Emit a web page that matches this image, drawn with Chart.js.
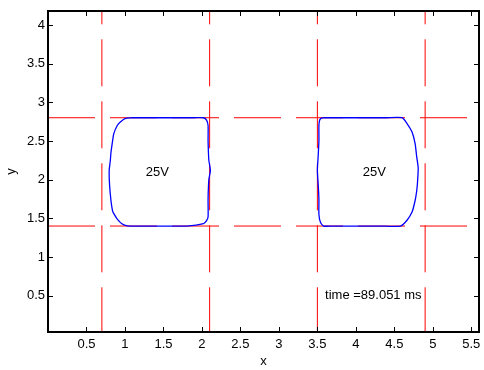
<!DOCTYPE html>
<html>
<head>
<meta charset="utf-8">
<script src="https://cdn.jsdelivr.net/npm/chart.js@4/dist/chart.umd.min.js"></script>
<style>
  body { margin: 0; background: #fff; }
  canvas { display: block; }
</style>
</head>
<body>
<canvas id="myChart" width="484" height="370"></canvas>
<script>
// axis limits and ticks
var xRange = [0, 5.6];
var yRange = [0.03, 4.18];
var xTicks = [0.5, 1, 1.5, 2, 2.5, 3, 3.5, 4, 4.5, 5, 5.5];
var xTickLabels = ['0.5', '1', '1.5', '2', '2.5', '3', '3.5', '4', '4.5', '5', '5.5'];
var yTicks = [0.5, 1, 1.5, 2, 2.5, 3, 3.5, 4];
var yTickLabels = ['0.5', '1', '1.5', '2', '2.5', '3', '3.5', '4'];

// electrode boundaries (dashed red lines)
var vLinesX = [0.7, 2.1, 3.5, 4.9];
var hLinesY = [1.4, 2.8];

// left droplet outline
var leftX = [1.09, 1.3, 1.6, 1.9, 2.02, 2.06, 2.08, 2.08, 2.09, 2.11, 2.09, 2.08, 2.08, 2.06, 2.02, 1.8, 1.5, 1.2, 1.03, 0.96, 0.90, 0.855, 0.838, 0.818, 0.80, 0.795, 0.81, 0.818, 0.834, 0.855, 0.90, 0.94, 1.0, 1.09];
var leftY = [2.80, 2.80, 2.80, 2.80, 2.80, 2.77, 2.70, 2.50, 2.25, 2.12, 2.00, 1.75, 1.52, 1.47, 1.43, 1.40, 1.40, 1.40, 1.403, 1.43, 1.49, 1.56, 1.60, 1.73, 1.93, 2.12, 2.25, 2.35, 2.466, 2.595, 2.70, 2.745, 2.79, 2.80];

// right droplet outline
var rightX = [3.58, 3.8, 4.1, 4.4, 4.60, 4.665, 4.73, 4.77, 4.79, 4.81, 4.80, 4.79, 4.77, 4.73, 4.665, 4.58, 4.3, 4.0, 3.7, 3.58, 3.54, 3.52, 3.52, 3.51, 3.50, 3.51, 3.52, 3.52, 3.53, 3.55, 3.58];
var rightY = [2.80, 2.80, 2.80, 2.80, 2.80, 2.725, 2.616, 2.466, 2.30, 2.15, 1.95, 1.85, 1.73, 1.58, 1.475, 1.40, 1.40, 1.40, 1.40, 1.40, 1.45, 1.55, 1.75, 1.95, 2.12, 2.30, 2.50, 2.70, 2.77, 2.795, 2.80];

// text annotations
var noteText = ['25V', '25V', 'time =89.051 ms'];
var noteX = [1.42, 4.24, 3.6];
var noteY = [2.09, 2.09, 0.5];
var noteAlign = ['center', 'center', 'left'];

var FONT = '"Liberation Sans", Arial, sans-serif';

function toPoints(xs, ys) {
  var pts = [];
  for (var i = 0; i < xs.length; i++) pts.push({ x: xs[i], y: ys[i] });
  return pts;
}

var datasets = [];
datasets.push({ data: toPoints(leftX, leftY), borderColor: '#0000ff', borderWidth: 1.3, tension: 0.2 });
datasets.push({ data: toPoints(rightX, rightY), borderColor: '#0000ff', borderWidth: 1.3, tension: 0.2 });
vLinesX.forEach(function (v) {
  datasets.push({ data: [{ x: v, y: 0 }, { x: v, y: 4.2 }], borderColor: '#ff0000', borderWidth: 1, borderDash: [47, 15] });
});
hLinesY.forEach(function (v) {
  datasets.push({ data: [{ x: 0, y: v }, { x: 5.6, y: v }], borderColor: '#ff0000', borderWidth: 1, borderDash: [47, 15] });
});

// box, inward ticks and text like a matlab figure
var matlabAxes = {
  id: 'matlabAxes',
  afterDatasetsDraw: function (chart) {
    var ctx = chart.ctx, a = chart.chartArea;
    var xs = chart.scales.x, ys = chart.scales.y;
    ctx.save();
    ctx.fillStyle = '#000';
    ctx.font = '13px ' + FONT;
    ctx.textBaseline = 'middle';
    for (var i = 0; i < noteText.length; i++) {
      ctx.textAlign = noteAlign[i];
      ctx.fillText(noteText[i], xs.getPixelForValue(noteX[i]), ys.getPixelForValue(noteY[i]));
    }
    ctx.strokeStyle = '#000';
    ctx.lineWidth = 1;
    ctx.beginPath();
    xTicks.forEach(function (v) {
      var px = Math.round(xs.getPixelForValue(v)) + 0.5;
      ctx.moveTo(px, a.bottom); ctx.lineTo(px, a.bottom - 5);
      ctx.moveTo(px, a.top); ctx.lineTo(px, a.top + 5);
    });
    yTicks.forEach(function (v) {
      var py = Math.round(ys.getPixelForValue(v)) + 0.5;
      ctx.moveTo(a.left, py); ctx.lineTo(a.left + 5, py);
      ctx.moveTo(a.right, py); ctx.lineTo(a.right - 5, py);
    });
    ctx.stroke();
    ctx.lineWidth = 2;
    ctx.strokeRect(a.left, a.top, a.right - a.left, a.bottom - a.top);
    ctx.restore();
  }
};

var ctx = document.getElementById('myChart');
var chart = new Chart(ctx, {
  type: 'scatter',
  data: { datasets: datasets },
  options: {
    responsive: false,
    animation: false,
    devicePixelRatio: 1,
    layout: { padding: { left: 0, top: 11, right: 5, bottom: 0 } },
    elements: { point: { radius: 0, hoverRadius: 0 } },
    datasets: { scatter: { showLine: true } },
    plugins: { legend: { display: false }, tooltip: { enabled: false } },
    scales: {
      x: {
        type: 'linear', min: xRange[0], max: xRange[1],
        grid: { display: false, drawTicks: false },
        border: { display: false },
        afterBuildTicks: function (scale) {
          scale.ticks = xTicks.map(function (v) { return { value: v }; });
        },
        afterFit: function (scale) {
          scale.height = 38; scale.paddingLeft = 0; scale.paddingRight = 0;
        },
        ticks: {
          autoSkip: false, maxRotation: 0, padding: 5, color: '#000',
          font: { family: FONT, size: 13 },
          callback: function (value, index) { return xTickLabels[index]; }
        },
        title: { display: true, text: 'x', color: '#000', font: { family: FONT, size: 13 }, padding: { top: 0, bottom: 1 } }
      },
      y: {
        type: 'linear', min: yRange[0], max: yRange[1],
        grid: { display: false, drawTicks: false },
        border: { display: false },
        afterBuildTicks: function (scale) {
          scale.ticks = yTicks.map(function (v) { return { value: v }; });
        },
        afterFit: function (scale) {
          scale.width = 48; scale.paddingTop = 0; scale.paddingBottom = 0;
        },
        ticks: {
          autoSkip: false, padding: 3, color: '#000',
          font: { family: FONT, size: 13 },
          callback: function (value, index) { return yTickLabels[index]; }
        },
        title: { display: true, text: 'y', color: '#000', font: { family: FONT, size: 13 }, padding: { top: 4, bottom: 0 } }
      }
    }
  },
  plugins: [matlabAxes]
});
</script>
</body>
</html>
